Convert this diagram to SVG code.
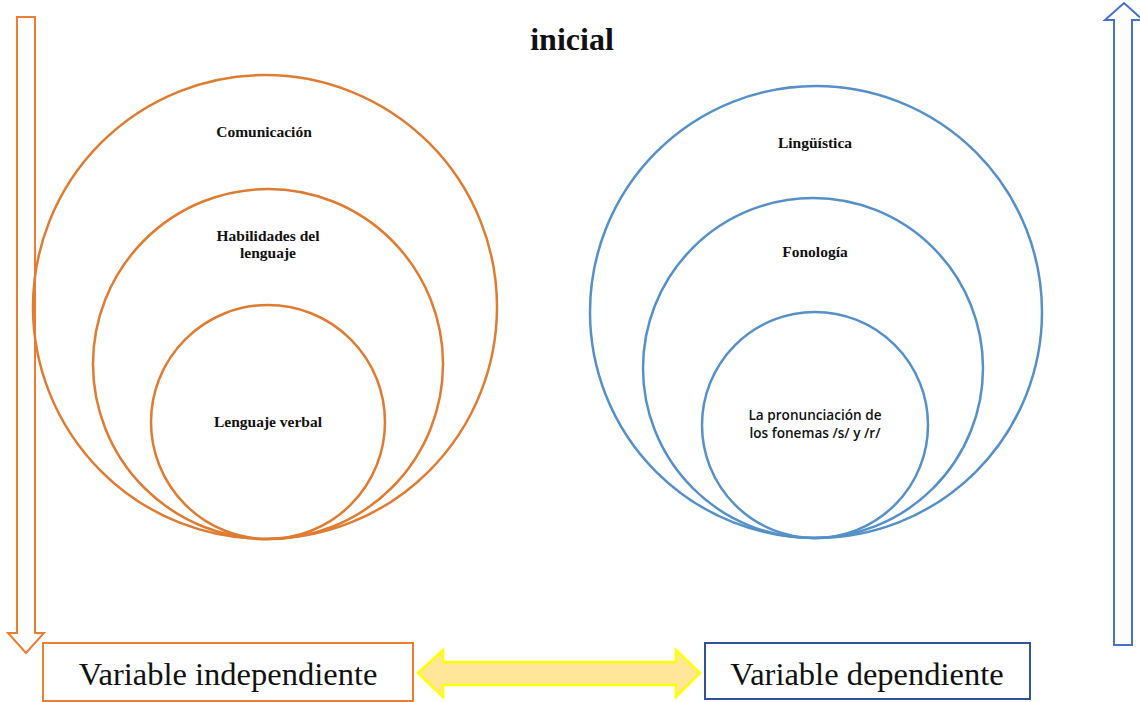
<svg xmlns="http://www.w3.org/2000/svg" width="1140" height="702" viewBox="0 0 1140 702">
<style>
.oc{fill:none;stroke:#E07B32;stroke-width:2.5}
.bc{fill:none;stroke:#5590C8;stroke-width:2.5}
.lbl{font-family:"Liberation Serif","Times New Roman",serif;font-weight:bold;font-size:15.5px;fill:#111;text-anchor:middle}
.lbl2{font-family:"Open Sans","Liberation Sans",sans-serif;font-weight:600;font-size:13.6px;fill:#111;text-anchor:middle}
.big{font-family:"Liberation Serif","Times New Roman",serif;font-size:32.5px;fill:#111;text-anchor:middle}
.title{font-family:"Liberation Serif","Times New Roman",serif;font-weight:bold;font-size:32px;fill:#111;text-anchor:middle}
</style>
<rect width="1140" height="702" fill="#fff"/>
<text class="title" x="572" y="50">inicial</text>
<g id="connectors">
<path id="arrow-down" d="M17,17 H35 V633 H44 L26,653 L8,633 H17 Z" fill="#fff" stroke="#ED7D31" stroke-width="2"/>
<path id="arrow-up" d="M1114,645 V20 H1105 L1124,3 L1143,20 H1132 V645 Z" fill="#fff" stroke="#4472C4" stroke-width="2"/>
<path id="arrow-both" d="M418,673 L443,650 V662 H676 V650 L700,673 L676,697 V685 H443 V697 Z" fill="#FFE699" stroke="#FFFF00" stroke-width="2.5"/>
</g>
<g id="comunicacion"><circle class="oc" cx="265" cy="307" r="232"/><text class="lbl" x="264" y="137">Comunicación</text></g>
<g id="habilidades"><circle class="oc" cx="268" cy="364" r="175"/><text class="lbl" x="268" y="241">Habilidades del</text><text class="lbl" x="268" y="258">lenguaje</text></g>
<g id="lenguaje-verbal"><circle class="oc" cx="268" cy="422" r="117"/><text class="lbl" x="268" y="427">Lenguaje verbal</text></g>
<g id="linguistica"><circle class="bc" cx="816" cy="312" r="226"/><text class="lbl" x="815" y="148">Lingüística</text></g>
<g id="fonologia"><circle class="bc" cx="813" cy="368" r="170"/><text class="lbl" x="815" y="257">Fonología</text></g>
<g id="pronunciacion"><circle class="bc" cx="815" cy="425" r="113"/><text class="lbl2" x="815" y="420">La pronunciación de</text><text class="lbl2" x="815" y="438">los fonemas /s/ y /r/</text></g>
<g id="var-indep"><rect x="43" y="643" width="370" height="58" fill="#fff" stroke="#ED7D31" stroke-width="2"/><text class="big" x="228" y="685">Variable independiente</text></g>
<g id="var-dep"><rect x="705" y="643" width="325" height="56" fill="#fff" stroke="#2F5597" stroke-width="2"/><text class="big" x="867" y="685">Variable dependiente</text></g>
</svg>
